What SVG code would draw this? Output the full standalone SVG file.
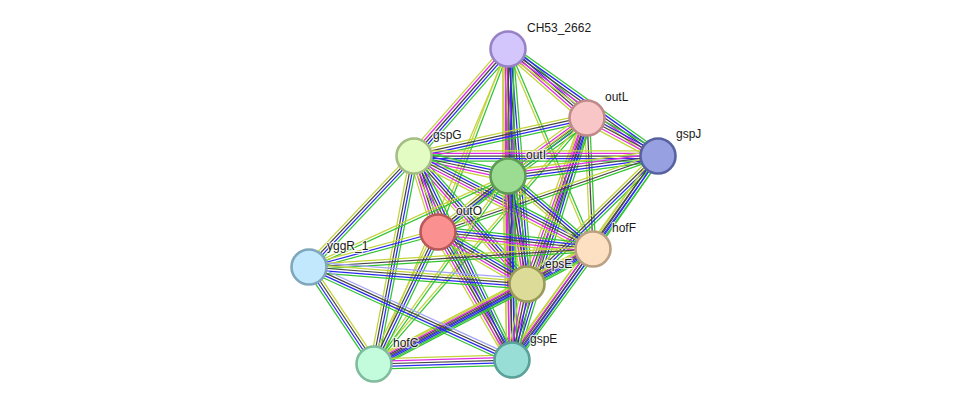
<svg xmlns="http://www.w3.org/2000/svg" width="976" height="410" viewBox="0 0 976 410">
<style>
line{stroke-width:1.25;fill:none}
.g{stroke:#33c433}.b{stroke:#2a2af0}.k{stroke:#454545}.m{stroke:#e02ae0}.y{stroke:#c3d43a}.l{stroke:#a4a4f8}
.node circle{stroke-width:2.6}
.lbl{font-family:"Liberation Sans",Arial,sans-serif;font-size:12px;fill:#1a1a1a;stroke:#fff;stroke-width:2.4;stroke-opacity:0.75;paint-order:stroke;stroke-linejoin:round}
</style>
<defs>
<g id="b5"><line class="g" x1="0" y1="-5.2" x2="1" y2="-5.2"/><line class="b" x1="0" y1="-2.6" x2="1" y2="-2.6"/><line class="k" x1="0" y1="0" x2="1" y2="0"/><line class="m" x1="0" y1="2.6" x2="1" y2="2.6"/><line class="y" x1="0" y1="5.2" x2="1" y2="5.2"/></g>
<g id="b4"><line class="g" x1="0" y1="-3.9" x2="1" y2="-3.9"/><line class="b" x1="0" y1="-1.3" x2="1" y2="-1.3"/><line class="k" x1="0" y1="1.3" x2="1" y2="1.3"/><line class="y" x1="0" y1="3.9" x2="1" y2="3.9"/></g>
<g id="b3"><line class="g" x1="0" y1="-2.6" x2="1" y2="-2.6"/><line class="k" x1="0" y1="0" x2="1" y2="0"/><line class="y" x1="0" y1="2.6" x2="1" y2="2.6"/></g>
<g id="b3b"><line class="g" x1="0" y1="-2.6" x2="1" y2="-2.6"/><line class="b" x1="0" y1="0" x2="1" y2="0"/><line class="y" x1="0" y1="2.6" x2="1" y2="2.6"/></g>
<g id="b2"><line class="g" x1="0" y1="-1.3" x2="1" y2="-1.3"/><line class="y" x1="0" y1="1.3" x2="1" y2="1.3"/></g>
<g id="b1y"><line class="y" x1="0" y1="0" x2="1" y2="0"/></g>
<g id="b5l"><line class="g" x1="0" y1="-5.2" x2="1" y2="-5.2"/><line class="b" x1="0" y1="-2.6" x2="1" y2="-2.6"/><line class="k" x1="0" y1="0" x2="1" y2="0"/><line class="y" x1="0" y1="2.6" x2="1" y2="2.6"/><line class="l" x1="0" y1="5.2" x2="1" y2="5.2"/></g>
<g id="b4l"><line class="g" x1="0" y1="-3.9" x2="1" y2="-3.9"/><line class="b" x1="0" y1="-1.3" x2="1" y2="-1.3"/><line class="k" x1="0" y1="1.3" x2="1" y2="1.3"/><line class="l" x1="0" y1="3.9" x2="1" y2="3.9"/></g>
</defs>
<rect width="976" height="410" fill="#fff"/>
<g id="connectors">
<use href="#b5" transform="matrix(79 69 -0.658 0.753 508 49)"/>
<use href="#b5" transform="matrix(150 107 -0.581 0.814 508 49)"/>
<use href="#b5" transform="matrix(-94 107 -0.751 -0.660 508 49)"/>
<use href="#b5" transform="matrix(0 127 -1 0 508 49)"/>
<use href="#b2" transform="matrix(-70 183 -0.934 -0.357 508 49)"/>
<use href="#b2" transform="matrix(85 200 -0.920 0.391 508 49)"/>
<use href="#b5" transform="matrix(19 235 -0.997 0.081 508 49)"/>
<use href="#b5" transform="matrix(4 311 -1 0.013 508 49)"/>
<use href="#b1y" transform="matrix(-134 315 -0.920 -0.391 508 49)"/>
<use href="#b5" transform="matrix(71 38 -0.472 0.882 587 118)"/>
<use href="#b4" transform="matrix(-173 38 -0.215 -0.977 587 118)"/>
<use href="#b5" transform="matrix(-79 58 -0.592 -0.806 587 118)"/>
<use href="#b2" transform="matrix(-149 114 -0.608 -0.794 587 118)"/>
<use href="#b3" transform="matrix(6 131 -0.999 0.046 587 118)"/>
<use href="#b5" transform="matrix(-60 166 -0.941 -0.340 587 118)"/>
<use href="#b5" transform="matrix(-75 242 -0.955 -0.296 587 118)"/>
<use href="#b2" transform="matrix(-213 246 -0.756 -0.655 587 118)"/>
<use href="#b5" transform="matrix(-244 0 0 -1 658 156)"/>
<use href="#b5" transform="matrix(-150 20 -0.132 -0.991 658 156)"/>
<use href="#b3" transform="matrix(-220 76 -0.327 -0.945 658 156)"/>
<use href="#b4" transform="matrix(-65 93 -0.819 -0.573 658 156)"/>
<use href="#b4" transform="matrix(-131 128 -0.699 -0.715 658 156)"/>
<use href="#b4" transform="matrix(-146 204 -0.813 -0.582 658 156)"/>
<use href="#b5" transform="matrix(94 20 -0.208 0.978 414 156)"/>
<use href="#b5" transform="matrix(24 76 -0.954 0.301 414 156)"/>
<use href="#b4" transform="matrix(-105 111 -0.726 -0.687 414 156)"/>
<use href="#b4" transform="matrix(-40 208 -0.982 -0.189 414 156)"/>
<use href="#b5" transform="matrix(113 128 -0.750 0.662 414 156)"/>
<use href="#b5" transform="matrix(98 204 -0.901 0.433 414 156)"/>
<use href="#b5" transform="matrix(179 93 -0.461 0.887 414 156)"/>
<use href="#b4" transform="matrix(-70 56 -0.625 -0.781 508 176)"/>
<use href="#b4" transform="matrix(85 73 -0.652 0.759 508 176)"/>
<use href="#b5" transform="matrix(19 108 -0.985 0.173 508 176)"/>
<use href="#b5" transform="matrix(4 184 -1 0.022 508 176)"/>
<use href="#b2" transform="matrix(-134 188 -0.814 -0.580 508 176)"/>
<use href="#b2" transform="matrix(-199 91 -0.416 -0.910 508 176)"/>
<use href="#b5" transform="matrix(155 17 -0.109 0.994 438 232)"/>
<use href="#b5" transform="matrix(89 52 -0.504 0.863 438 232)"/>
<use href="#b5" transform="matrix(74 128 -0.866 0.500 438 232)"/>
<use href="#b4" transform="matrix(-64 132 -0.900 -0.436 438 232)"/>
<use href="#b3b" transform="matrix(-129 35 -0.262 -0.965 438 232)"/>
<use href="#b5" transform="matrix(-66 35 -0.469 -0.884 593 249)"/>
<use href="#b5" transform="matrix(-81 111 -0.808 -0.590 593 249)"/>
<use href="#b3" transform="matrix(-284 18 -0.063 -0.998 593 249)"/>
<use href="#b4" transform="matrix(-219 115 -0.465 -0.885 593 249)"/>
<use href="#b5" transform="matrix(-15 76 -0.981 -0.194 527 284)"/>
<use href="#b5" transform="matrix(-153 80 -0.463 -0.886 527 284)"/>
<use href="#b5l" transform="matrix(-218 -17 0.078 -0.997 527 284)"/>
<use href="#b5" transform="matrix(-138 4 -0.029 -0.999 512 360)"/>
<use href="#b4l" transform="matrix(-203 -93 0.417 -0.909 512 360)"/>
<use href="#b4" transform="matrix(-65 -97 0.831 -0.557 374 364)"/>
</g>
<g id="CH53_2662" class="node"><circle cx="508" cy="49" r="17.5" fill="#d3c6fd" stroke="#9782c6"/><text class="lbl" x="527" y="32">CH53_2662</text></g>
<g id="outL" class="node"><circle cx="587" cy="118" r="17.5" fill="#f8c6c6" stroke="#c08a8a"/><text class="lbl" x="605" y="101">outL</text></g>
<g id="gspJ" class="node"><circle cx="658" cy="156" r="17.5" fill="#97a0e0" stroke="#5862a0"/><text class="lbl" x="676" y="138">gspJ</text></g>
<g id="gspG" class="node"><circle cx="414" cy="156" r="17.5" fill="#e2fcc3" stroke="#a3bd82"/><text class="lbl" x="433" y="139">gspG</text></g>
<g id="outI" class="node"><circle cx="508" cy="176" r="17.5" fill="#9bdc92" stroke="#5e9a56"/><text class="lbl" x="526" y="159">outI</text></g>
<g id="outO" class="node"><circle cx="438" cy="232" r="17.5" fill="#fb9090" stroke="#b85858"/><text class="lbl" x="456" y="215">outO</text></g>
<g id="hofF" class="node"><circle cx="593" cy="249" r="17.5" fill="#fde0c2" stroke="#bca084"/><text class="lbl" x="612" y="232">hofF</text></g>
<g id="yggR_1" class="node"><circle cx="309" cy="267" r="17.5" fill="#c1e8fc" stroke="#80a6bc"/><text class="lbl" x="327" y="250">yggR_1</text></g>
<g id="epsE" class="node"><circle cx="527" cy="284" r="17.5" fill="#dcdc98" stroke="#9a9a58"/><text class="lbl" x="545" y="268">epsE</text></g>
<g id="hofC" class="node"><circle cx="374" cy="364" r="17.5" fill="#c2fcdc" stroke="#80bc9c"/><text class="lbl" x="393" y="347">hofC</text></g>
<g id="gspE" class="node"><circle cx="512" cy="360" r="17.5" fill="#98ded6" stroke="#58a098"/><text class="lbl" x="530" y="343">gspE</text></g>
</svg>
